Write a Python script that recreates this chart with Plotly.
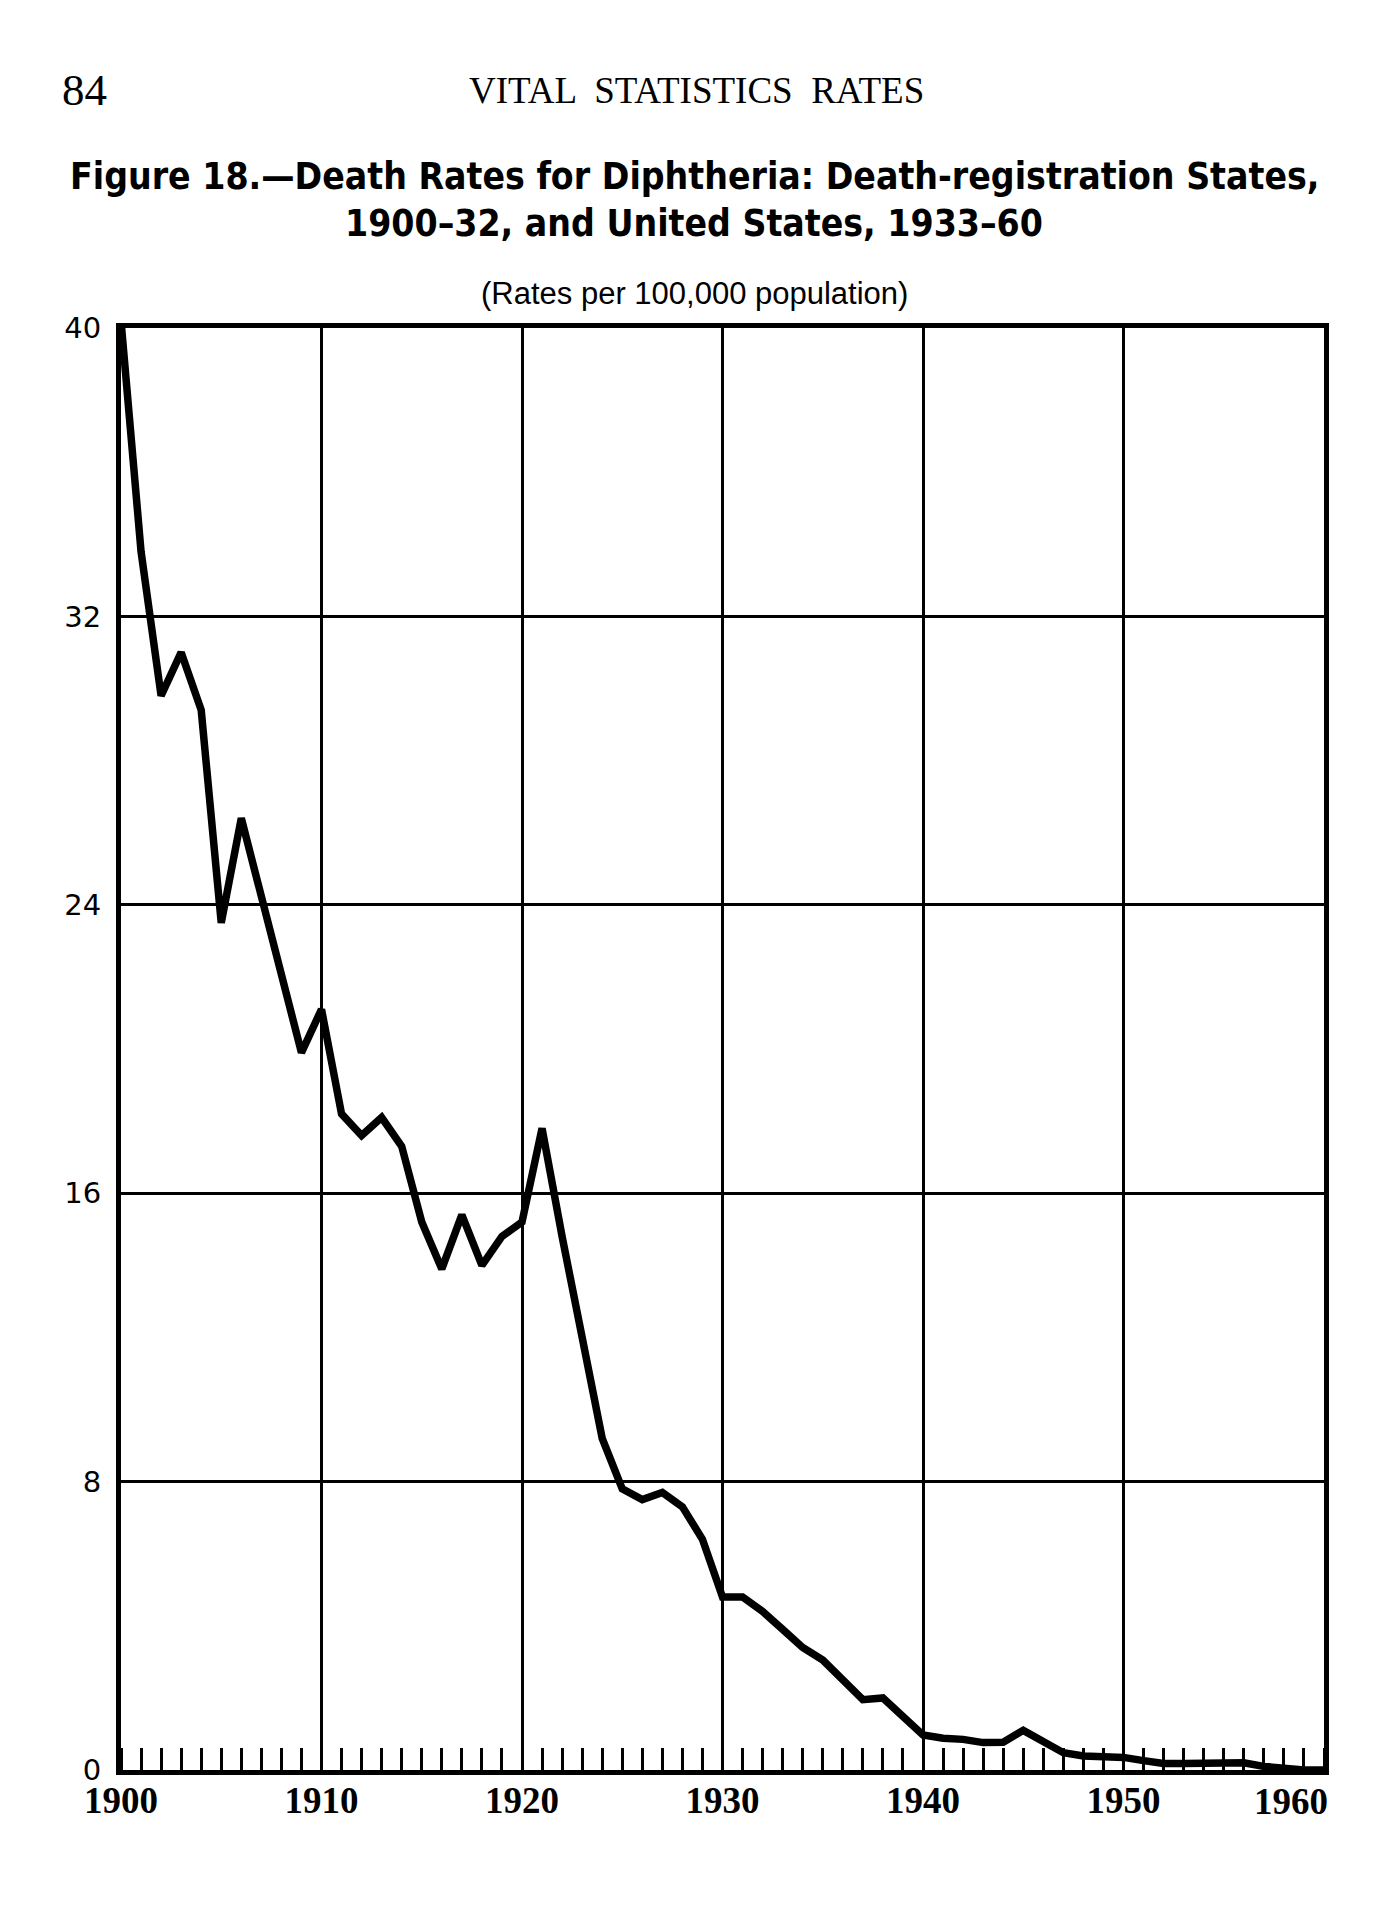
import plotly.graph_objects as go

years = list(range(1900, 1961))
rates = [40.2, 33.8, 29.8, 31.0, 29.4, 23.5, 26.4, 24.2, 22.0, 19.9,
         21.1, 18.2, 17.6, 18.1, 17.3, 15.2, 13.9, 15.4, 14.0, 14.8,
         15.2, 17.8, 14.8, 11.9, 9.2, 7.8, 7.5, 7.7, 7.3, 6.4,
         4.8, 4.8, 4.4, 3.9, 3.4, 3.05, 2.5, 1.95, 2.0, 1.5,
         0.97, 0.88, 0.85, 0.76, 0.77, 1.1, 0.78, 0.48, 0.39, 0.39,
         0.35, 0.26, 0.18, 0.18, 0.2, 0.22, 0.2, 0.1, 0.03, 0.0, 0.0]

x_ticks = [1900, 1910, 1920, 1930, 1940, 1950]
x_last = 1960
y_ticks = [0, 8, 16, 24, 32, 40]

page_header_num = "84"
page_header = "VITAL  STATISTICS  RATES"
title_1 = "Figure 18.\u2014Death Rates for Diphtheria: Death-registration States,"
title_2 = "1900\u201332, and United States, 1933\u201360"
subtitle = "(Rates per 100,000 population)"

# page geometry (body margin of the html page is 8 px)
OFF = 8
W, H = 1391 - 2 * OFF, 1927 - 2 * OFF
Lp, Rp, Tp, Bp = 121, 1324, 328, 1770


def px(xp):
    return (xp - Lp) / (Rp - Lp)


def py(yp):
    return (Bp - yp) / (Bp - Tp)


fig = go.Figure()
fig.add_trace(go.Scatter(x=years, y=rates, mode="lines",
                         line=dict(color="black", width=7.5),
                         hoverinfo="skip", showlegend=False))

fig.update_layout(
    width=W, height=H,
    margin=dict(l=Lp - OFF, r=W - (Rp - OFF), t=Tp - OFF, b=H - (Bp - OFF), pad=0),
    paper_bgcolor="white", plot_bgcolor="white",
    showlegend=False,
)

fig.update_xaxes(
    range=[1900, 1960], tickvals=x_ticks, ticktext=[str(v) for v in x_ticks],
    showgrid=True, gridcolor="black", gridwidth=3,
    showline=True, linecolor="black", linewidth=5, mirror=True,
    zeroline=False, ticks="", ticklabelstandoff=-6,
    tickfont=dict(family="Liberation Serif", size=37, color="black", weight="bold"),
    minor=dict(tickmode="linear", tick0=1900, dtick=1, ticks="inside",
               ticklen=22, tickwidth=3, tickcolor="black", showgrid=False),
)
fig.update_yaxes(
    range=[0, 40], tickvals=y_ticks, ticktext=[str(v) for v in y_ticks],
    showgrid=True, gridcolor="black", gridwidth=3,
    showline=True, linecolor="black", linewidth=5, mirror=True,
    zeroline=False, ticks="", ticklabelstandoff=9,
    tickfont=dict(family="DejaVu Sans", size=29, color="black"),
)

title_font = dict(family="DejaVu Sans Condensed, DejaVu Sans", size=37, color="black", weight="bold")
ann = [
    dict(text=page_header_num, x=px(60), y=py(90), xanchor="left", yanchor="middle",
         font=dict(family="Liberation Serif", size=45, color="black")),
    dict(text=page_header, x=px(696), y=py(90), xanchor="center", yanchor="middle",
         font=dict(family="Liberation Serif", size=37, color="black")),
    dict(text=title_1, x=px(694), y=py(176), xanchor="center", yanchor="middle", font=title_font),
    dict(text=title_2, x=px(694), y=py(223), xanchor="center", yanchor="middle", font=title_font),
    dict(text=subtitle, x=px(694), y=py(293), xanchor="center", yanchor="middle",
         font=dict(family="Liberation Sans", size=31, color="black")),
    dict(text=str(x_last), x=x_last, xref="x", y=0, yref="paper", xanchor="right", yanchor="top",
         xshift=6, yshift=-9,
         font=dict(family="Liberation Serif", size=37, color="black", weight="bold")),
]
for a in ann:
    a.setdefault("xref", "paper")
    a.setdefault("yref", "paper")
    a["showarrow"] = False
fig.update_layout(annotations=ann)

fig.write_html("out.html")
